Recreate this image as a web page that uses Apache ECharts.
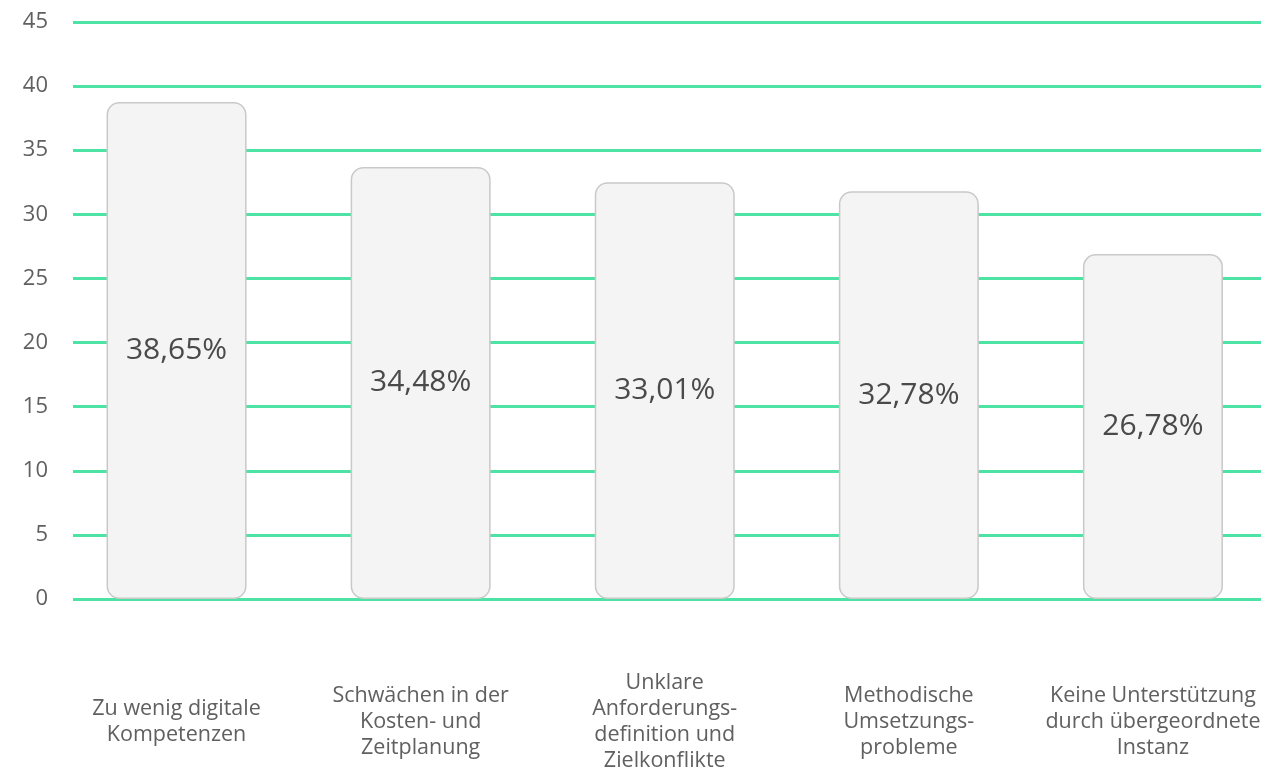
<!DOCTYPE html>
<html>
<head>
<meta charset="utf-8">
<script src="https://cdn.jsdelivr.net/npm/echarts@6/dist/echarts.min.js"></script>
<style>
  html, body { margin: 0; padding: 0; background: #fff; }
  #main { width: 1275px; height: 784px; }
</style>
</head>
<body>
<div id="main"></div>
<script>
// Werte
var categories = [
	'Zu wenig digitale\nKompetenzen',
	'Schwächen in der\nKosten- und\nZeitplanung',
	'Unklare\nAnforderungs-\ndefinition und\nZielkonflikte',
	'Methodische\nUmsetzungs-\nprobleme',
	'Keine Unterstützung\ndurch übergeordnete\nInstanz'
];
var barValues = [38.76, 33.7, 32.5, 31.8, 26.9];
var barLabels = ['38,65%', '34,48%', '33,01%', '32,78%', '26,78%'];
var yTicks = [0, 5, 10, 15, 20, 25, 30, 35, 40, 45];

var fontName = '"Open Sans", "Noto Sans", sans-serif';
var green = '#4de3a4';

var myChart = echarts.init(document.getElementById('main'));

var option = {
	backgroundColor: '#ffffff',
	animation: false,
	grid: [{
		left: 73,
		right: 14,
		top: 22,
		bottom: 185
	}, {
		left: 54.5,
		width: 1225,
		top: 22,
		bottom: 185
	}],
	xAxis: [{
		gridIndex: 0,
		type: 'value',
		show: false
	}, {
		gridIndex: 1,
		type: 'category',
		data: categories,
		axisLine: { show: false },
		axisTick: { show: false },
		axisLabel: {
			interval: 0,
			margin: 123,
			verticalAlign: 'middle',
			color: '#606060',
			fontSize: 21.5,
			lineHeight: 26,
			fontFamily: fontName
		}
	}],
	yAxis: [{
		gridIndex: 0,
		type: 'value',
		min: yTicks[0],
		max: yTicks[yTicks.length - 1],
		interval: 5,
		axisLine: { show: false },
		axisTick: { show: false },
		axisLabel: {
			margin: 25,
			color: '#606060',
			fontSize: 22,
			fontFamily: fontName
		},
		splitLine: {
			lineStyle: { color: green, width: 3 }
		}
	}, {
		gridIndex: 1,
		type: 'value',
		min: yTicks[0],
		max: yTicks[yTicks.length - 1],
		interval: 5,
		show: false,
		splitLine: { show: false }
	}],
	series: [{
		type: 'bar',
		xAxisIndex: 1,
		yAxisIndex: 1,
		data: barValues,
		barWidth: 140,
		itemStyle: {
			color: '#f4f4f4',
			borderColor: '#c9c9c9',
			borderWidth: 1.5,
			borderRadius: 12
		},
		label: {
			show: true,
			position: 'inside',
			formatter: function(p) {
				return barLabels[p.dataIndex];
			},
			color: '#4a4a4a',
			fontSize: 30,
			fontFamily: fontName
		}
	}]
};

myChart.setOption(option);
</script>
</body>
</html>
